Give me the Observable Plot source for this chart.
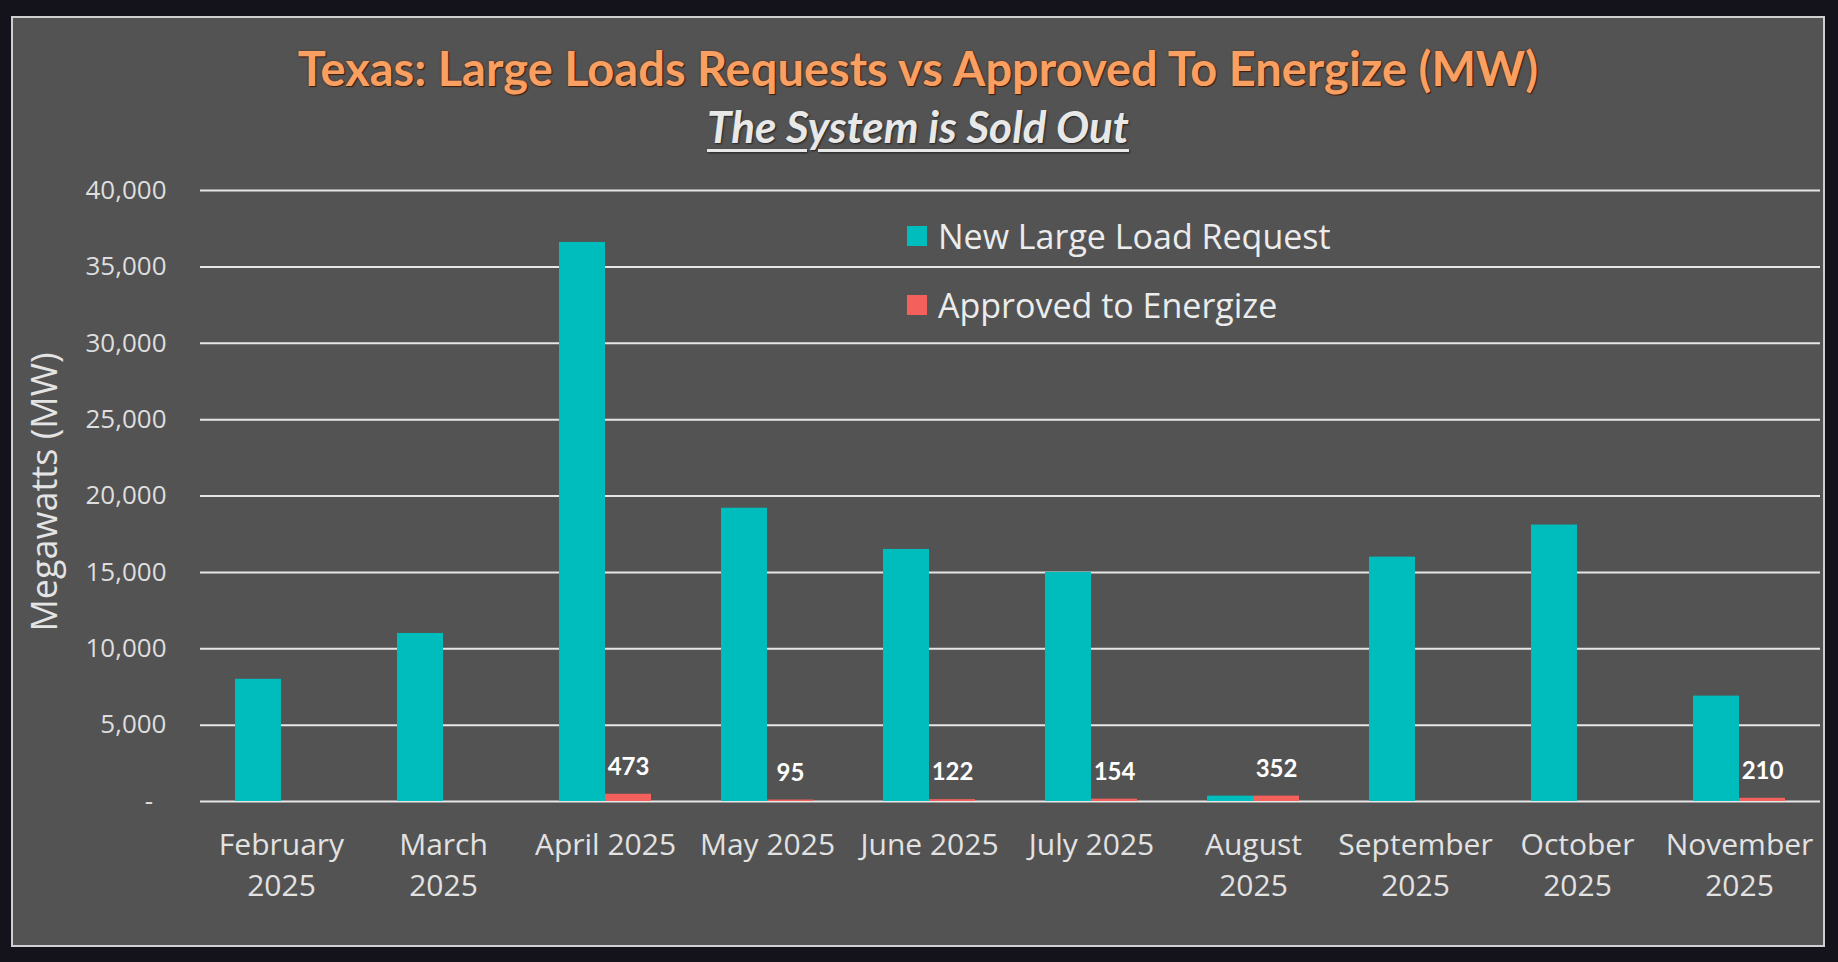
<!DOCTYPE html>
<html>
<head>
<meta charset="utf-8">
<script src="https://cdn.jsdelivr.net/npm/d3@7"></script>
<script src="https://cdn.jsdelivr.net/npm/@observablehq/plot@0.6"></script>
<style>
  html, body { margin: 0; padding: 0; background: #14131c; width: 1838px; height: 962px; overflow: hidden; }
  #panel { position: absolute; left: 11px; top: 16px; width: 1814px; height: 931px; background: #535353; border: 2px solid #cfcfcf; box-sizing: border-box; }
  #title { position: absolute; left: 0; width: 100%; top: 22px; text-align: center; font-family: Lato, sans-serif; font-weight: 700; font-size: 47px; color: #f99f62; text-shadow: 0 0 2px #5a2a10, 1px 1px 1px #3a1a0a; white-space: nowrap; }
  #subtitle { position: absolute; left: 0; width: 100%; top: 82px; text-align: center; font-family: Lato, sans-serif; font-weight: 700; font-style: italic; font-size: 44px; color: #e8e8e8; text-decoration: underline; text-decoration-thickness: 3px; text-underline-offset: 6px; text-shadow: 1px 1px 2px #222; white-space: nowrap; }
  #chart { position: absolute; left: 0; top: 144px; }
  #ylabel { position: absolute; left: 30px; top: 474px; transform: translate(-50%, -50%) rotate(-90deg); font-family: "Open Sans", sans-serif; font-size: 36px; color: #e4e4e4; white-space: nowrap; }
  #legend { position: absolute; left: 894px; top: 198px; font-family: "Open Sans", sans-serif; font-size: 34px; color: #ececec; }
  .li { display: flex; align-items: center; height: 40px; margin-bottom: 29px; white-space: nowrap; }
  .sw { width: 20px; height: 20px; margin-right: 11px; }
</style>
</head>
<body>
<div id="panel">
  <div id="title"></div>
  <div id="subtitle"></div>
  <div id="chart"></div>
  <div id="ylabel"></div>
  <div id="legend"></div>
</div>
<script>
const titleText = "Texas: Large Loads Requests vs Approved To Energize (MW)";
const subtitleText = "The System is Sold Out";
const yLabel = "Megawatts (MW)";
const months = ["February 2025", "March 2025", "April 2025", "May 2025", "June 2025", "July 2025", "August 2025", "September 2025", "October 2025", "November 2025"];
const monthLabels = ["February\n2025", "March\n2025", "April 2025", "May 2025", "June 2025", "July 2025", "August\n2025", "September\n2025", "October\n2025", "November\n2025"];
const seriesNames = ["New Large Load Request", "Approved to Energize"];
const seriesColors = ["#00bdbd", "#f4605b"];
const requests = [8000, 11000, 36600, 19200, 16500, 15000, 350, 16000, 18100, 6900];
const approved = [0, 0, 473, 95, 122, 154, 352, 0, 0, 210];
const yTicks = [0, 5000, 10000, 15000, 20000, 25000, 30000, 35000, 40000];

document.getElementById("title").textContent = titleText;
document.getElementById("subtitle").textContent = subtitleText;
document.getElementById("ylabel").textContent = yLabel;
const legend = document.getElementById("legend");
seriesNames.forEach((s, i) => {
  const row = document.createElement("div");
  row.className = "li";
  const sw = document.createElement("div");
  sw.className = "sw";
  sw.style.background = seriesColors[i];
  const t = document.createElement("span");
  t.textContent = s;
  row.append(sw, t);
  legend.append(row);
});

const data = [];
months.forEach((m, i) => {
  data.push({month: m, series: seriesNames[0], value: requests[i]});
  data.push({month: m, series: seriesNames[1], value: approved[i]});
});
const labelData = data.filter(d => d.series === seriesNames[1] && d.value > 0);
const labelOf = new Map(months.map((m, i) => [m, monthLabels[i]]));
const fmt = d3.format(",");

const chart = Plot.plot({
  width: 1810,
  height: 770,
  marginTop: 28,
  marginBottom: 131,
  marginLeft: 183,
  marginRight: 0,
  style: {background: "transparent", overflow: "visible"},
  fx: {domain: months, padding: 0, label: null},
  x: {domain: seriesNames, paddingInner: 0, paddingOuter: 0.73, axis: null},
  y: {domain: [0, 40000]},
  color: {domain: seriesNames, range: seriesColors},
  marks: [
    Plot.ruleY(yTicks, {stroke: "#e6e6e6", strokeWidth: 2}),
    Plot.barY(data, {fx: "month", x: "series", y: "value", fill: "series"}),
    Plot.text(labelData, {fx: "month", x: "series", y: "value", text: d => fmt(d.value), dy: -27, fill: "#ffffff", fontSize: 24, fontWeight: "bold", fontFamily: "Lato, sans-serif"}),
    Plot.axisY({ticks: yTicks, tickFormat: d => d === 0 ? "-\u00a0\u00a0" : fmt(d), tickSize: 0, tickPadding: 34, fontSize: 26, fontFamily: "Open Sans, sans-serif", color: "#dedede", label: null}),
    Plot.axisFx({anchor: "bottom", tickSize: 0, tickPadding: 24, tickFormat: m => labelOf.get(m), fontSize: 30, lineHeight: 1.37, fontFamily: "Open Sans, sans-serif", color: "#e2e2e2", label: null})
  ]
});
document.getElementById("chart").append(chart);
</script>
</body>
</html>
